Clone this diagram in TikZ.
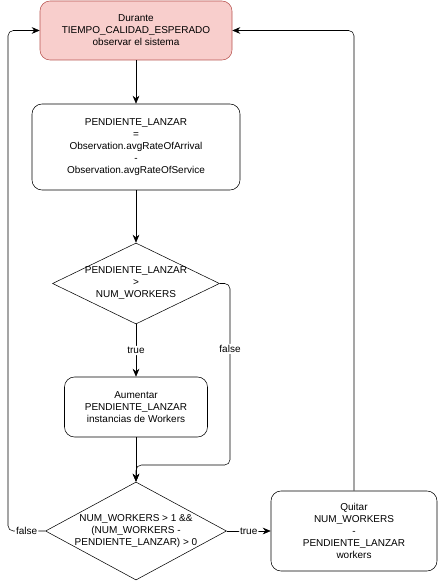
\documentclass[tikz,border=0pt]{standalone}
\usepackage{fontspec}
\setmainfont{Liberation Sans}
\usepackage{xcolor}
\usepackage{tikz}
\usetikzlibrary{shapes,arrows.meta,positioning}
\definecolor{pinkfill}{RGB}{248,206,204}
\definecolor{pinkdraw}{RGB}{184,84,80}

\begin{document}
\begin{tikzpicture}[x=0.75pt,y=0.75pt,yscale=-1,xscale=1,
  every node/.style={font=\fontsize{7.5pt}{9pt}\selectfont, align=center},
  box/.style={draw, rounded corners=7.5pt, inner sep=0pt},
  decision/.style={draw, diamond, inner sep=0pt},
  lbl/.style={fill=white, inner sep=1pt},
  flow/.style={-{Stealth[length=6pt,width=5pt]}, rounded corners=4pt}]
\useasboundingbox (0,0) rectangle (438,581);

%Shape: Rounded Rectangle
\node[box, fill=pinkfill, draw=pinkdraw, minimum width=144pt, minimum height=44.25pt] (observar) at (136,30.5) {Durante\\TIEMPO\_CALIDAD\_ESPERADO\\observar el sistema};
%Shape: Rounded Rectangle
\node[box, minimum width=156pt, minimum height=64.5pt] (pendiente) at (136,147) {PENDIENTE\_LANZAR\\=\\Observation.avgRateOfArrival\\-\\Observation.avgRateOfService};
%Shape: Diamond
\node[decision, minimum width=125.25pt, minimum height=60.75pt, label={center:PENDIENTE\_LANZAR\\>\\NUM\_WORKERS}] (mayor) at (136,283.5) {};
%Shape: Rounded Rectangle
\node[box, minimum width=107.25pt, minimum height=45pt] (aumentar) at (136,407) {Aumentar\\PENDIENTE\_LANZAR\\instancias de Workers};
%Shape: Diamond
\node[decision, minimum width=135.75pt, minimum height=73.5pt, label={center:NUM\_WORKERS > 1 \&\&\\(NUM\_WORKERS -\\PENDIENTE\_LANZAR) > 0}] (sobran) at (136,531) {};
%Shape: Rounded Rectangle
\node[box, minimum width=124.5pt, minimum height=60pt] (quitar) at (354,531) {Quitar\\NUM\_WORKERS\\-\\PENDIENTE\_LANZAR\\workers};

%Straight Lines
\draw[flow] (observar) -- (pendiente);
\draw[flow] (pendiente) -- (mayor);
\draw[flow] (mayor) -- node[lbl]{true} (aumentar);
\draw[flow] (aumentar) -- (sobran);
\draw[flow] (mayor.east) -- (230,283.5) -- node[lbl,pos=0.36]{false} (230,465) -- (136,465) -- (sobran.north);
\draw[flow] (sobran.west) -- node[lbl]{false} (8,531) -- (8,30.5) -- (observar.west);
\draw[flow] (sobran.east) -- node[lbl]{true} (quitar);
\draw[flow] (quitar.north) -- (354,30.5) -- (observar.east);

\end{tikzpicture}
\end{document}
